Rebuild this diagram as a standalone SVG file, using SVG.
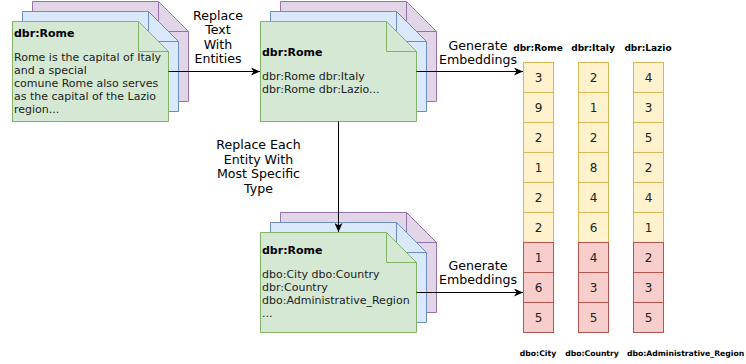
<svg xmlns="http://www.w3.org/2000/svg" xmlns:xlink="http://www.w3.org/1999/xlink" width="746" height="364" viewBox="0 0 746 364">
<style>
text{font-family:"DejaVu Sans",Verdana,sans-serif;fill:#000}
.t{font-size:11px;font-weight:bold}
.b{font-size:11px;fill:#222}
.l{font-size:12.6px;text-anchor:middle}
.n{font-size:12px;text-anchor:middle;fill:#222}
.h{font-size:9px;font-weight:bold;text-anchor:middle}
.f{font-size:7.7px;font-weight:bold;text-anchor:middle}
.g{fill:#d5e8d4;stroke:#82b366}
.bl{fill:#dae8fc;stroke:#6c8ebf}
.p{fill:#e1d5e7;stroke:#9673a6}
.fg{fill:none;stroke:#82b366}
.fb{fill:none;stroke:#6c8ebf}
.fp{fill:none;stroke:#9673a6}
.y{fill:#fff2cc;stroke:#d6b656}
.r{fill:#f8cecc;stroke:#b85450}
.c{fill:none;stroke:#000;stroke-width:1;marker-end:url(#arr)}
</style>
<defs>
<path id="note" d="M0,0 H126 L156,30 V100 H0 Z"/>
<path id="fold" d="M126,0 V30 H156"/>
<marker id="arr" markerWidth="10" markerHeight="8" refX="9" refY="4" orient="auto" markerUnits="userSpaceOnUse">
<path d="M0,0 L9,4 L0,8 L2.5,4 Z" fill="#000"/>
</marker>
</defs>
<g id="doc-text">
<use xlink:href="#note" class="p" x="32.5" y="1.5"/><use xlink:href="#fold" class="fp" x="32.5" y="1.5"/>
<use xlink:href="#note" class="bl" x="22.5" y="11.5"/><use xlink:href="#fold" class="fb" x="22.5" y="11.5"/>
<use xlink:href="#note" class="g" x="12.5" y="21.5"/><use xlink:href="#fold" class="fg" x="12.5" y="21.5"/>
<text class="t" x="14" y="37">dbr:Rome</text>
<text class="b"><tspan x="14" y="61">Rome is the capital of Italy</tspan><tspan x="14" y="74">and a special</tspan><tspan x="14" y="87">comune Rome also serves</tspan><tspan x="14" y="100">as the capital of the Lazio</tspan><tspan x="14" y="113">region...</tspan></text>
</g>
<g id="doc-entities">
<use xlink:href="#note" class="p" x="280.5" y="1.5"/><use xlink:href="#fold" class="fp" x="280.5" y="1.5"/>
<use xlink:href="#note" class="bl" x="270.5" y="11.5"/><use xlink:href="#fold" class="fb" x="270.5" y="11.5"/>
<use xlink:href="#note" class="g" x="260.5" y="21.5"/><use xlink:href="#fold" class="fg" x="260.5" y="21.5"/>
<text class="t" x="262" y="56">dbr:Rome</text>
<text class="b"><tspan x="262" y="80">dbr:Rome dbr:Italy</tspan><tspan x="262" y="93">dbr:Rome dbr:Lazio...</tspan></text>
</g>
<g id="doc-types">
<use xlink:href="#note" class="p" x="280.5" y="212.5"/><use xlink:href="#fold" class="fp" x="280.5" y="212.5"/>
<use xlink:href="#note" class="bl" x="270.5" y="222.5"/><use xlink:href="#fold" class="fb" x="270.5" y="222.5"/>
<use xlink:href="#note" class="g" x="260.5" y="232.5"/><use xlink:href="#fold" class="fg" x="260.5" y="232.5"/>
<text class="t" x="262" y="254">dbr:Rome</text>
<text class="b"><tspan x="262" y="278">dbo:City dbo:Country</tspan><tspan x="262" y="291">dbr:Country</tspan><tspan x="262" y="304">dbo:Administrative_Region</tspan><tspan x="262" y="317">...</tspan></text>
</g>
<g id="connectors">
<path class="c" d="M168.5,71.5 H260"/>
<path class="c" d="M416.5,71.5 H523"/>
<path class="c" d="M338.5,121.5 V232"/>
<path class="c" d="M416.5,292.5 H523"/>
<text class="l"><tspan x="218" y="19.5">Replace</tspan><tspan x="218" y="34">Text</tspan><tspan x="218" y="48.5">With</tspan><tspan x="218" y="63">Entities</tspan></text>
<text class="l"><tspan x="478" y="49.5">Generate</tspan><tspan x="478" y="64">Embeddings</tspan></text>
<text class="l"><tspan x="258.5" y="148.5">Replace Each</tspan><tspan x="258.5" y="163.5">Entity With</tspan><tspan x="258.5" y="178">Most Specific</tspan><tspan x="258.5" y="193">Type</tspan></text>
<text class="l"><tspan x="478" y="269.5">Generate</tspan><tspan x="478" y="284">Embeddings</tspan></text>
</g>
<g id="emb-rome">
<text class="h" x="538" y="50.5">dbr:Rome</text>
<rect class="y" x="523.5" y="62.5" width="30" height="30"/><rect class="y" x="523.5" y="92.5" width="30" height="30"/><rect class="y" x="523.5" y="122.5" width="30" height="30"/><rect class="y" x="523.5" y="152.5" width="30" height="30"/><rect class="y" x="523.5" y="182.5" width="30" height="30"/><rect class="y" x="523.5" y="212.5" width="30" height="30"/>
<rect class="r" x="523.5" y="242.5" width="30" height="30"/><rect class="r" x="523.5" y="272.5" width="30" height="30"/><rect class="r" x="523.5" y="302.5" width="30" height="30"/>
<text class="n"><tspan x="538.5" y="82">3</tspan><tspan x="538.5" y="112">9</tspan><tspan x="538.5" y="142">2</tspan><tspan x="538.5" y="172">1</tspan><tspan x="538.5" y="202">2</tspan><tspan x="538.5" y="232">2</tspan><tspan x="538.5" y="262">1</tspan><tspan x="538.5" y="292">6</tspan><tspan x="538.5" y="322">5</tspan></text>
<text class="f" x="538" y="356">dbo:City</text>
</g>
<g id="emb-italy">
<text class="h" x="593" y="50.5">dbr:Italy</text>
<rect class="y" x="578.5" y="62.5" width="30" height="30"/><rect class="y" x="578.5" y="92.5" width="30" height="30"/><rect class="y" x="578.5" y="122.5" width="30" height="30"/><rect class="y" x="578.5" y="152.5" width="30" height="30"/><rect class="y" x="578.5" y="182.5" width="30" height="30"/><rect class="y" x="578.5" y="212.5" width="30" height="30"/>
<rect class="r" x="578.5" y="242.5" width="30" height="30"/><rect class="r" x="578.5" y="272.5" width="30" height="30"/><rect class="r" x="578.5" y="302.5" width="30" height="30"/>
<text class="n"><tspan x="593.5" y="82">2</tspan><tspan x="593.5" y="112">1</tspan><tspan x="593.5" y="142">2</tspan><tspan x="593.5" y="172">8</tspan><tspan x="593.5" y="202">4</tspan><tspan x="593.5" y="232">6</tspan><tspan x="593.5" y="262">4</tspan><tspan x="593.5" y="292">3</tspan><tspan x="593.5" y="322">5</tspan></text>
<text class="f" x="592" y="356">dbo:Country</text>
</g>
<g id="emb-lazio">
<text class="h" x="648" y="50.5">dbr:Lazio</text>
<rect class="y" x="633.5" y="62.5" width="30" height="30"/><rect class="y" x="633.5" y="92.5" width="30" height="30"/><rect class="y" x="633.5" y="122.5" width="30" height="30"/><rect class="y" x="633.5" y="152.5" width="30" height="30"/><rect class="y" x="633.5" y="182.5" width="30" height="30"/><rect class="y" x="633.5" y="212.5" width="30" height="30"/>
<rect class="r" x="633.5" y="242.5" width="30" height="30"/><rect class="r" x="633.5" y="272.5" width="30" height="30"/><rect class="r" x="633.5" y="302.5" width="30" height="30"/>
<text class="n"><tspan x="648.5" y="82">4</tspan><tspan x="648.5" y="112">3</tspan><tspan x="648.5" y="142">5</tspan><tspan x="648.5" y="172">2</tspan><tspan x="648.5" y="202">4</tspan><tspan x="648.5" y="232">1</tspan><tspan x="648.5" y="262">2</tspan><tspan x="648.5" y="292">3</tspan><tspan x="648.5" y="322">5</tspan></text>
<text class="f" x="627" y="356" style="text-anchor:start">dbo:Administrative_Region</text>
</g>
</svg>
